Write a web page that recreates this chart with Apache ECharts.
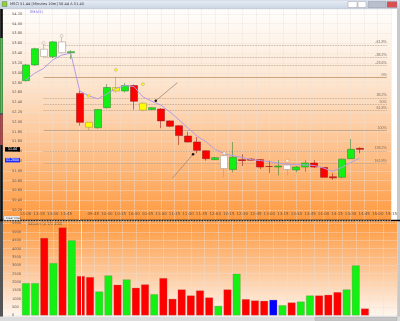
<!DOCTYPE html>
<html><head><meta charset="utf-8">
<script src="https://cdn.jsdelivr.net/npm/echarts@6/dist/echarts.min.js"></script>
<style>html,body{margin:0;padding:0;background:#fff;}#c{width:400px;height:321px;}</style>
</head><body><div id="c"></div><script>
// ---- data (10-minute bars) ----
const times = ['13:00','13:10','13:20','13:30','13:40','13:50','09:30','09:40','09:50','10:00','10:10','10:20','10:30','10:40','10:50','11:00','11:10','11:20','11:30','11:40','11:50','12:00','12:10','12:20','12:30','12:40','12:50','13:00','13:10','13:20','13:30','13:40','13:50','14:00','14:10','14:20','14:30','14:40'];
const open  = [52.84,53.16,53.48,53.33,53.63,53.41,52.58,51.99,51.88,52.29,52.70,52.63,52.74,52.38,52.25,52.26,52.02,51.92,51.71,51.59,51.41,51.23,51.31,51.03,51.23,51.24,51.23,51.09,51.08,51.12,51.02,51.08,51.16,51.07,50.88,50.87,51.25,51.46];
const close = [53.16,53.49,53.33,53.63,53.41,53.43,51.99,51.89,52.25,52.70,52.63,52.74,52.42,52.24,52.29,52.02,51.91,51.72,51.59,51.42,51.25,51.27,51.05,51.28,51.21,51.22,51.08,51.09,51.10,51.03,51.08,51.16,51.08,50.87,50.86,51.24,51.44,51.44];
const high  = [53.18,53.51,53.61,53.65,53.78,53.46,52.64,51.99,52.26,52.77,52.92,52.79,52.76,52.40,52.30,52.28,52.03,51.93,51.80,51.69,51.42,51.29,51.33,51.59,51.34,51.26,51.24,51.21,51.22,51.14,51.10,51.22,51.22,51.08,50.95,51.25,51.65,51.48];
const low   = [52.82,53.14,53.31,53.30,53.40,53.28,51.92,51.83,51.86,52.27,52.60,52.60,52.25,52.22,52.24,51.87,51.89,51.53,51.58,51.36,51.21,51.22,50.87,50.97,51.10,51.21,51.04,50.96,50.91,50.91,50.97,50.98,51.06,50.86,50.82,50.85,51.24,51.36];
const bodyColor = ['G','G','W','G','W','G','R','Y','G','G','Y','G','R','Y','G','R','R','R','R','R','R','G','W','G','R','R','R','R','G','W','G','G','R','R','R','G','G','R'];
const sma5 = [52.85,52.99,53.09,53.26,53.36,53.40,52.63,52.53,52.47,52.57,52.68,52.74,52.72,52.51,52.42,52.34,52.20,52.04,51.87,51.71,51.59,51.44,51.35,51.31,51.27,51.23,51.21,51.19,51.16,51.14,51.13,51.12,51.11,51.06,50.99,51.07,51.17,51.26];
const volume = [1940,1940,4640,3140,5265,4500,2360,2300,1440,2400,1840,2160,1660,1860,1280,2240,1000,1560,1200,1500,1080,580,1560,2500,980,900,880,940,620,780,840,1200,1200,1240,1400,1560,3000,420];
const volColor = ['G','G','R','G','R','G','R','R','G','G','R','G','R','R','G','R','R','R','R','R','R','G','R','G','R','R','R','B','G','R','G','G','R','R','R','G','G','R'];
// pattern markers
const markIdx   = [2,4,7,10,13,22,29];
const markPrice = [53.61,53.75,52.53,53.06,52.77,51.36,51.21];
const markColor = ['W','W','Y','Y','Y','W','W'];
// fibonacci levels
const fibPct   = ['-61.8%','-38.2%','-23.6%','0%','38.2%','50%','61.8%','100%','138.2%','161.8%'];
const fibPrice = [53.567,53.313,53.155,52.902,52.487,52.360,52.233,51.820,51.407,51.152];
const fibLeft  = ['','','53.1441','52.9020','52.4897','52.3610','52.2322','51.8200','51.4076','51.1528'];
// hand drawn trend lines (bar position, price)
const trendA = [[14.42,52.43],[16.82,52.80]];
const trendB = [[16.26,50.85],[18.55,51.34]];
// x tick labels (bar position, text)
const xTickVals = [0,1.5,3,4.5,7.5,9,10.5,12,13.5,15,16.5,18,19.5,21,22.5,24,25.5,27,28.5,30,31.5,33,34.5,36,37.5,39,40.5];
const xTickText = ['13:00','13:15','13:30','13:45','09:45','10:00','10:15','10:30','10:45','11:00','11:15','11:30','11:45','12:00','12:15','12:30','12:45','13:00','13:15','13:30','13:45','14:00','14:15','14:30','14:45','15:00','15:15'];
const lastPrice = 51.44, lastSma = 51.26;

const COL = {G:'#14f014', R:'#ff0000', W:'#ffffff', Y:'#ffff00', B:'#0000ff'};
const BORDER = {G:'#3a8a3a', R:'#a02020', W:'#b0a090', Y:'#b0a040', B:'#202080'};
const padL = 2, padR = 3;
const cats = [];
for (let i = 0; i < padL; i++) cats.push('L' + i);
times.forEach((t, i) => cats.push(i + ' ' + t));
for (let i = 0; i < padR; i++) cats.push('R' + i);
const pad = a => Array(padL).fill('-').concat(a);

const candleData = pad(times.map((t, i) => ({
  value: [open[i], close[i], low[i], high[i]],
  itemStyle: {color: COL[bodyColor[i]], color0: COL[bodyColor[i]], borderColor: BORDER[bodyColor[i]], borderColor0: BORDER[bodyColor[i]], borderWidth: 0.6}
})));
candleData.splice(0, padL, ...Array(padL).fill({value: ['-','-','-','-']}));
const volData = pad(volume.map((v, i) => ({value: v, itemStyle: {color: COL[volColor[i]]}})));
const smaData = pad(sma5);
const markData = markIdx.map((k, j) => ({value: [cats[k + padL], markPrice[j]], itemStyle: {color: COL[markColor[j]], borderColor: '#a08060', borderWidth: 0.4}}));
const sepCat = cats[times.indexOf('09:30') + padL];
const fibStart = cats[2 + padL], fibEnd = cats[cats.length - 1];

const fibLines = fibPrice.map((p, j) => {
  const solid = fibPct[j] === '0%' || fibPct[j] === '100%';
  return [{coord: [fibStart, p], lineStyle: {color: solid ? '#c9a47c' : '#b59c86', type: solid ? 'solid' : 'dotted', width: solid ? 1 : 0.8},
           label: {formatter: fibPct[j], position: 'insideEndTop', distance: [0, 0.5], fontSize: 3.6, color: '#7a6a5a'}}, {coord: [fibEnd, p]}];
});
const fibLeftLines = fibPrice.map((p, j) => [{coord: [fibStart, p], lineStyle: {opacity: 0},
  label: {show: fibLeft[j] !== '', formatter: fibLeft[j], position: 'insideStartTop', distance: [0, 0.5], fontSize: 3.6, color: '#7a6a5a'}}, {coord: [fibEnd, p]}]);

const priceGrad = new echarts.graphic.LinearGradient(0, 0, 0, 1, [{offset: 0, color: '#fffefd'}, {offset: 0.35, color: '#fde5cf'}, {offset: 0.7, color: '#fdbd86'}, {offset: 1, color: '#ff9a40'}]);
const volGrad = new echarts.graphic.LinearGradient(0, 0, 0, 1, [{offset: 0, color: '#ff9a3e'}, {offset: 0.5, color: '#fdc493'}, {offset: 1, color: '#fff6ee'}]);
const gridLine = {type: 'dotted', color: 'rgba(235,226,218,0.95)', width: 0.8};
const tickFmt = v => { const k = xTickVals.indexOf(v); return k >= 0 ? xTickText[k] : ''; };

const chart = echarts.init(document.getElementById('c'));
chart.setOption({
  animation: false,
  backgroundColor: '#ffffff',
  grid: [
    {left: 3, width: 394, top: 9, height: 211, show: true, backgroundColor: priceGrad, borderWidth: 0},
    {left: 3, width: 394, top: 221, height: 94.5, show: true, backgroundColor: volGrad, borderWidth: 0}
  ],
  xAxis: [
    {type: 'category', gridIndex: 0, data: cats, axisLine: {show: false}, axisTick: {show: false}, axisLabel: {show: false}, splitLine: {show: false}},
    {type: 'value', gridIndex: 0, min: -2.5, max: 40.5, position: 'bottom', axisLine: {show: false},
     axisTick: {show: false, customValues: xTickVals},
     axisLabel: {inside: true, customValues: xTickVals, formatter: tickFmt, fontSize: 4, color: '#6b5646', margin: 4.5, fontFamily: 'DejaVu Sans'},
     splitLine: {show: true, lineStyle: gridLine}},
    {type: 'category', gridIndex: 1, data: cats, axisLine: {show: false}, axisTick: {show: false}, axisLabel: {show: false}, splitLine: {show: false}},
    {type: 'value', gridIndex: 1, min: -2.5, max: 40.5, axisLine: {show: false},
     axisTick: {show: false, customValues: xTickVals}, axisLabel: {show: false, customValues: xTickVals},
     splitLine: {show: true, lineStyle: gridLine}}
  ],
  yAxis: [
    {type: 'value', gridIndex: 0, min: 50, max: 54.3, interval: 0.2, axisLine: {show: false}, axisTick: {show: false},
     axisLabel: {inside: true, margin: 9, fontSize: 3.6, color: '#6b5646', showMinLabel: false, showMaxLabel: false, formatter: v => v.toFixed(2), fontFamily: 'DejaVu Sans'},
     splitLine: {lineStyle: gridLine}},
    {type: 'value', gridIndex: 1, min: 0, max: 5650, interval: 500, axisLine: {show: false}, axisTick: {show: false},
     axisLabel: {inside: true, margin: 9, fontSize: 3.6, color: '#6b5646', showMaxLabel: false, formatter: v => String(Math.round(v)), fontFamily: 'DejaVu Sans'},
     splitLine: {lineStyle: gridLine}}
  ],
  series: [
    {type: 'candlestick', xAxisIndex: 0, yAxisIndex: 0, barWidth: 7.5, data: candleData, z: 3,
     markLine: {silent: true, symbol: 'none', animation: false, z: 2,
       data: [{xAxis: sepCat, lineStyle: {color: '#e8e8e8', type: 'solid', width: 1}, label: {show: false}}].concat(fibLines, fibLeftLines)},
     markPoint: {silent: true, animation: false, z: 6, data: [
       {coord: [cats[0], lastPrice], symbol: 'rect', symbolSize: [15, 4.5], symbolOffset: [5, 0], itemStyle: {color: '#000'},
        label: {show: true, position: 'inside', formatter: lastPrice.toFixed(2), color: '#fff', fontSize: 3.6}},
       {coord: [cats[0], lastSma], symbol: 'rect', symbolSize: [15, 4.5], symbolOffset: [5, 2], itemStyle: {color: '#1e2cff'},
        label: {show: true, position: 'inside', formatter: lastSma.toFixed(4), color: '#fff', fontSize: 3.6}}
     ]}},
    {type: 'line', xAxisIndex: 0, yAxisIndex: 0, data: smaData, symbol: 'none', z: 4, lineStyle: {color: '#b39ce6', width: 1}},
    {type: 'scatter', xAxisIndex: 0, yAxisIndex: 0, data: markData, symbolSize: 3, z: 5},
    {type: 'line', xAxisIndex: 1, yAxisIndex: 0, data: trendA, z: 5, lineStyle: {color: '#9b8a7a', width: 0.8},
     symbol: 'circle', symbolSize: (v, p) => p.dataIndex === 0 ? 2.5 : 0, itemStyle: {color: '#111'}},
    {type: 'line', xAxisIndex: 1, yAxisIndex: 0, data: trendB, z: 5, lineStyle: {color: '#9b8a7a', width: 0.8},
     symbol: 'circle', symbolSize: (v, p) => p.dataIndex === 1 ? 2.5 : 0, itemStyle: {color: '#111'}},
    {type: 'bar', xAxisIndex: 2, yAxisIndex: 1, data: volData, barWidth: 8, itemStyle: {borderColor: 'rgba(150,110,90,0.45)', borderWidth: 0.6},
     markLine: {silent: true, symbol: 'none', animation: false, data: [{xAxis: sepCat, lineStyle: {color: '#e8e8e8', type: 'solid', width: 1}, label: {show: false}}]}}
  ],
  graphic: [
    {type: 'rect', shape: {x: 0, y: 0, width: 400, height: 8.5}, style: {fill: new echarts.graphic.LinearGradient(0, 0, 0, 1, [{offset: 0, color: '#e9eef5'}, {offset: 1, color: '#c9d5e4'}]), stroke: '#a8b4c4', lineWidth: 0.5}},
    {type: 'rect', shape: {x: 2, y: 1.5, width: 5, height: 5}, style: {fill: '#8fcf3f', stroke: '#567', lineWidth: 0.4}},
    {type: 'text', x: 10, y: 4.5, style: {text: 'MSCI 51.44 [Minutes 10m] 50.44 A 51.45', fontSize: 3.6, fill: '#333', verticalAlign: 'middle', fontFamily: 'DejaVu Sans'}},
    {type: 'rect', shape: {x: 348, y: 1.5, width: 9, height: 6}, style: {fill: '#fff', stroke: '#889', lineWidth: 0.4}},
    {type: 'rect', shape: {x: 358, y: 1.5, width: 8, height: 6}, style: {fill: '#fff', stroke: '#889', lineWidth: 0.4}},
    {type: 'rect', shape: {x: 368, y: 1.5, width: 18, height: 6}, style: {fill: '#b8c0cc', stroke: '#889', lineWidth: 0.4}},
    {type: 'rect', shape: {x: 387, y: 1.5, width: 10, height: 6}, style: {fill: '#d85050', stroke: '#889', lineWidth: 0.4}},
    {type: 'text', x: 30, y: 12, style: {text: 'SMA(5)', fontSize: 3.6, fill: '#6f62d8', verticalAlign: 'middle', fontFamily: 'DejaVu Sans'}},
    {type: 'text', x: 28, y: 224, style: {text: 'Volume (x 1/1 000)', fontSize: 3.6, fill: '#5a4a3a', verticalAlign: 'middle', fontFamily: 'DejaVu Sans'}},
    {type: 'rect', shape: {x: 0, y: 9, width: 3, height: 312}, style: {fill: '#555'}},
    {type: 'rect', shape: {x: 0.5, y: 9, width: 2, height: 29}, style: {fill: '#111'}},
    {type: 'rect', shape: {x: 0.5, y: 38, width: 2, height: 75}, style: {fill: '#3ad43a'}},
    {type: 'rect', shape: {x: 0.5, y: 115, width: 2, height: 30}, style: {fill: '#e23a3a'}},
    {type: 'rect', shape: {x: 0.5, y: 145, width: 2, height: 75}, style: {fill: '#111'}},
    {type: 'rect', shape: {x: 397, y: 9, width: 3, height: 312}, style: {fill: '#c8c8c8'}},
    {type: 'line', shape: {x1: 0, y1: 220.5, x2: 400, y2: 220.5}, style: {stroke: '#000', lineWidth: 1.5}},
    {type: 'rect', shape: {x: 4, y: 216, width: 16, height: 4}, style: {fill: '#f4f4f4', stroke: '#999', lineWidth: 0.3}},
    {type: 'text', x: 6, y: 218, style: {text: 'Clear lines', fontSize: 2.8, fill: '#333', verticalAlign: 'middle', fontFamily: 'DejaVu Sans'}},
    {type: 'rect', shape: {x: 0, y: 316.5, width: 400, height: 4.5}, style: {fill: '#dcdcdc'}},
    {type: 'rect', shape: {x: 315, y: 317, width: 82, height: 3.5}, style: {fill: '#c4c4c4', stroke: '#999', lineWidth: 0.3}}
  ]
});
</script></body></html>
